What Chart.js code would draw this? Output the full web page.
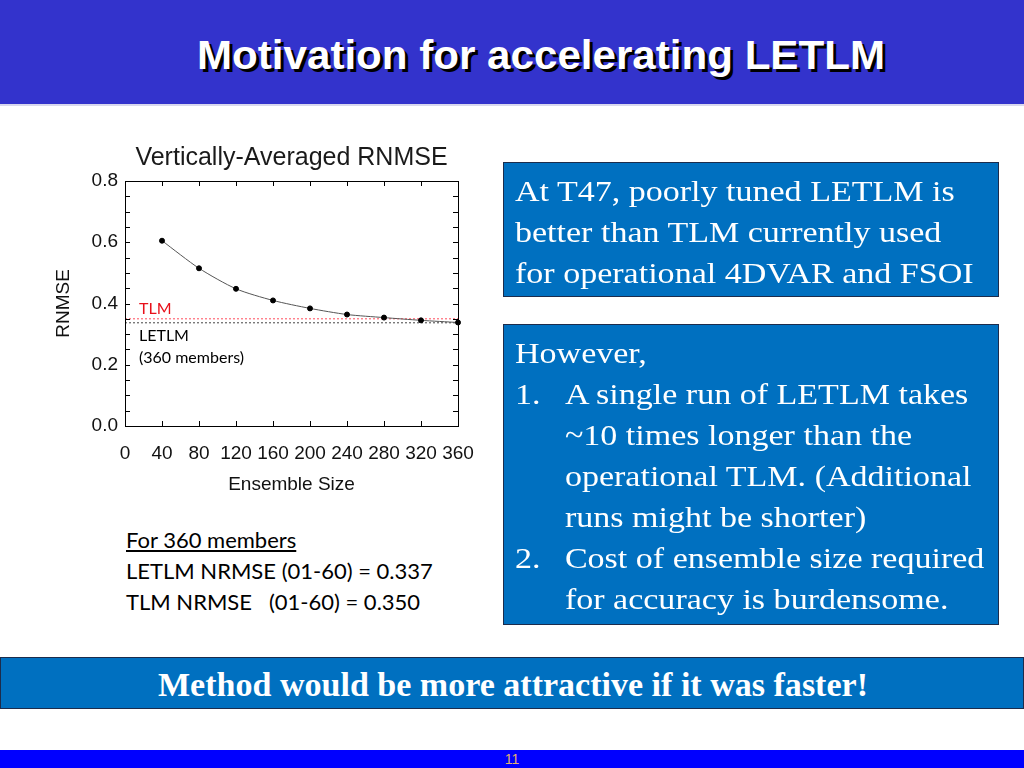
<!DOCTYPE html>
<html>
<head>
<meta charset="utf-8">
<script src="https://cdn.jsdelivr.net/npm/chart.js@4.4.1/dist/chart.umd.min.js"></script>
<style>
  html, body { margin:0; padding:0; width:1024px; height:768px; background:#fff; overflow:hidden; position:relative; }
  #header { position:absolute; left:0; top:0; width:1024px; height:104px; background:#3333cc; border-bottom:2px solid #d8d8ee; }
  #title { position:absolute; left:197px; top:33px; font-family:"Liberation Sans", Arial, sans-serif; font-weight:bold; font-size:40px; color:#fff; text-shadow:3px 3px 0 #000; white-space:nowrap; transform-origin:0 0; }
  #chartWrap { position:absolute; left:40px; top:140px; width:503px; height:370px; }
  .box { position:absolute; background:#0070c0; border:1px solid #1c2c4c; color:#fff; font-family:"Liberation Serif", "Times New Roman", serif; font-size:30px; line-height:41px; box-sizing:border-box; }
  .box .inner { transform:scaleX(1.134); transform-origin:0 0; white-space:nowrap; }
  #box1 { left:503px; top:162px; width:496px; height:135px; padding:7px 0 0 11px; }
  #box2 { left:503px; top:324px; width:496px; height:301px; padding:7px 0 0 11px; }
  .item { position:relative; padding-left:44px; }
  .item .num { position:absolute; left:0; top:0; }
  .ann { position:absolute; font-family:Lato, "Open Sans", sans-serif; font-size:16px; line-height:20px; white-space:nowrap; }
  #note { position:absolute; left:126px; top:524px; font-family:Lato, "Open Sans", sans-serif; font-size:22px; line-height:31px; color:#000; white-space:nowrap; }
  #banner { position:absolute; left:0; top:657px; width:1024px; height:52px; background:#0070c0; border:1px solid #1c2c4c; box-sizing:border-box; }
  #bannerText { position:absolute; left:157px; top:9px; font-family:"Liberation Serif", "Times New Roman", serif; font-weight:bold; font-size:33px; line-height:36px; color:#fff; white-space:nowrap; transform-origin:0 0; }
  #footer { position:absolute; left:0; top:750px; width:1024px; height:18px; background:#0000ff; }
  #pageNum { position:absolute; left:0; width:1024px; top:1px; text-align:center; font-family:"Liberation Sans", Arial, sans-serif; font-size:14px; line-height:16px; color:#e0b070; }
</style>
</head>
<body>
<div id="header"><div id="title">Motivation for accelerating LETLM</div></div>

<div id="chartWrap"><canvas id="chart" width="503" height="370"></canvas></div>

<div class="ann" style="left:139px; top:298px; color:#e8101a;">TLM</div>
<div class="ann" style="left:139px; top:325px; color:#000;">LETLM</div>
<div class="ann" style="left:139px; top:347px; color:#000;">(360 members)</div>

<div id="note"><span style="text-decoration:underline;">For 360 members</span><br>LETLM NRMSE (01-60) = 0.337<br>TLM NRMSE &nbsp; (01-60) = 0.350</div>

<div class="box" id="box1"><div class="inner">At T47, poorly tuned LETLM is<br>better than TLM currently used<br>for operational 4DVAR and FSOI</div></div>

<div class="box" id="box2"><div class="inner">However,
  <div class="item"><span class="num">1.</span>A single run of LETLM takes<br>~10 times longer than the<br>operational TLM. (Additional<br>runs might be shorter)</div>
  <div class="item"><span class="num">2.</span>Cost of ensemble size required<br>for accuracy is burdensome.</div>
</div></div>

<div id="banner"><div id="bannerText">Method would be more attractive if it was faster!</div></div>

<div id="footer"><div id="pageNum">11</div></div>

<script>
// ---- data ----
const ensembleSizes = [40, 80, 120, 160, 200, 240, 280, 320, 360];
const rnmseValues   = [0.605, 0.515, 0.448, 0.410, 0.384, 0.364, 0.354, 0.345, 0.338];
const tlmLevel      = 0.350;
const letlmLevel    = 0.337;
const xRange        = [0, 360];
const yRange        = [0, 0.8];
const chartTitle    = 'Vertically-Averaged RNMSE';
const xTitle        = 'Ensemble Size';
const yTitle        = 'RNMSE';

function fitWidth(id, target) {
  const el = document.getElementById(id);
  const w = el.getBoundingClientRect().width;
  el.style.transform = 'scaleX(' + (target / w) + ')';
}
fitWidth('title', 688);
fitWidth('bannerText', 710);

const frame = {
  id: 'frame',
  afterDraw(chart) {
    const {ctx, chartArea: a, scales} = chart;
    ctx.save();
    ctx.strokeStyle = '#000';
    ctx.lineWidth = 1;
    ctx.strokeRect(Math.round(a.left) + 0.5, Math.round(a.top) + 0.5, Math.round(a.right - a.left), Math.round(a.bottom - a.top));
    ctx.beginPath();
    for (let v = yRange[0]; v <= yRange[1] + 1e-9; v += 0.05) {
      const y = Math.round(scales.y.getPixelForValue(v)) + 0.5;
      ctx.moveTo(a.left, y); ctx.lineTo(a.left + 5, y);
      ctx.moveTo(a.right, y); ctx.lineTo(a.right - 5, y);
    }
    for (let v = xRange[0]; v <= xRange[1]; v += 40) {
      const x = Math.round(scales.x.getPixelForValue(v)) + 0.5;
      ctx.moveTo(x, a.bottom); ctx.lineTo(x, a.bottom - 5);
      ctx.moveTo(x, a.top); ctx.lineTo(x, a.top + 5);
    }
    ctx.stroke();
    ctx.restore();
  }
};

const axisFont = { family: '"Liberation Sans", Arial, sans-serif', size: 19 };

new Chart(document.getElementById('chart'), {
  type: 'line',
  data: {
    datasets: [
      {
        label: 'LETLM',
        data: ensembleSizes.map((x, i) => ({x, y: rnmseValues[i]})),
        borderColor: '#555',
        borderWidth: 1,
        pointBackgroundColor: '#000',
        pointBorderColor: '#000',
        pointRadius: 2.5,
        tension: 0.25,
        clip: false
      },
      {
        label: 'TLM level',
        data: [{x: xRange[0], y: tlmLevel}, {x: xRange[1], y: tlmLevel}],
        borderColor: '#ff4a5a',
        borderWidth: 1,
        borderDash: [2, 2],
        pointRadius: 0
      },
      {
        label: 'LETLM level',
        data: [{x: xRange[0], y: letlmLevel}, {x: xRange[1], y: letlmLevel}],
        borderColor: '#444',
        borderWidth: 1,
        borderDash: [2, 2],
        pointRadius: 0
      }
    ]
  },
  options: {
    responsive: false,
    animation: false,
    events: [],
    layout: { padding: { left: 0, right: 85, top: 0, bottom: 0 } },
    plugins: {
      legend: { display: false },
      tooltip: { enabled: false },
      title: {
        display: true,
        fullSize: false,
        text: chartTitle,
        color: '#1a1a1a',
        font: { family: '"Liberation Sans", Arial, sans-serif', size: 25, weight: 'normal' },
        padding: { top: 3, bottom: 8 }
      }
    },
    scales: {
      x: {
        type: 'linear',
        min: xRange[0], max: xRange[1],
        grid: { display: false, drawTicks: false },
        border: { display: false },
        ticks: { stepSize: 40, padding: 16, color: '#111', maxRotation: 0, autoSkip: false, font: axisFont },
        title: { display: true, text: xTitle, color: '#111', padding: { top: 0, bottom: 14 }, font: axisFont },
        afterFit(scale) { scale.height = 84; }
      },
      y: {
        min: yRange[0], max: yRange[1],
        grid: { display: false, drawTicks: false },
        border: { display: false },
        ticks: { stepSize: 0.2, padding: 7, color: '#111', callback: v => Number(v).toFixed(1), font: axisFont },
        title: { display: true, text: yTitle, color: '#111', padding: { top: 12, bottom: 0 }, font: axisFont },
        afterFit(scale) { scale.width = 85; }
      }
    }
  },
  plugins: [frame]
});
</script>
</body>
</html>
